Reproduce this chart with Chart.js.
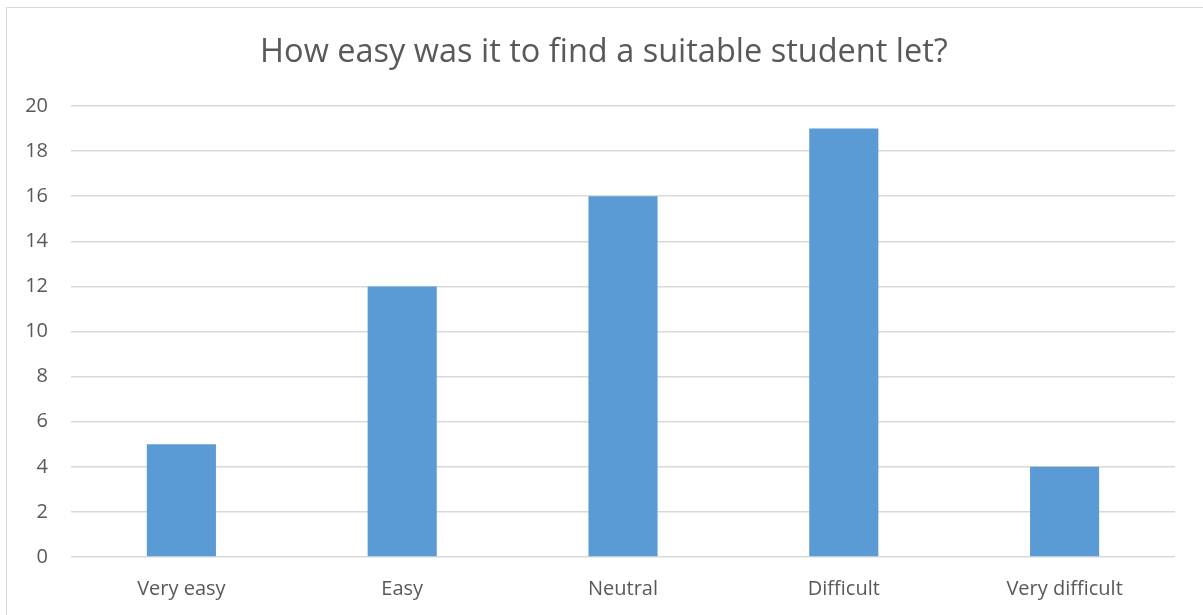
<!DOCTYPE html>
<html>
<head>
<meta charset="utf-8">
<script src="https://cdn.jsdelivr.net/npm/chart.js@4/dist/chart.umd.min.js"></script>
<style>
  html, body { margin: 0; padding: 0; background: #fff; }
  #wrap { position: relative; width: 1203px; height: 615px; overflow: hidden; }
  #frame {
    position: absolute; left: 6px; top: 7px; width: 1300px; height: 700px;
    border-left: 1px solid #d9d9d9; border-top: 1px solid #d9d9d9;
    pointer-events: none;
  }
</style>
</head>
<body>
<div id="wrap">
  <canvas id="letChart" width="1203" height="615"></canvas>
  <div id="frame"></div>
</div>
<script>
const chartTitle = 'How easy was it to find a suitable student let?';
const categories = ['Very easy', 'Easy', 'Neutral', 'Difficult', 'Very difficult'];
const responses = [5, 12, 16, 19, 4];
const yMax = 20;
const yStep = 2;

const fontFamily = "'Open Sans', 'Liberation Sans', sans-serif";
const textColor = '#595959';

const ctx = document.getElementById('letChart').getContext('2d');

new Chart(ctx, {
    type: 'bar',
    data: {
        labels: categories,
        datasets: [{
            label: 'Responses',
            data: responses,
            backgroundColor: '#5b9bd5',
            borderWidth: 0,
            categoryPercentage: 1,
            barPercentage: 0.313
        }]
    },
    options: {
        responsive: false,
        animation: false,
        layout: {
            padding: { top: 33, left: 5, right: 0, bottom: 0 }
        },
        plugins: {
            legend: { display: false },
            tooltip: { enabled: false },
            title: {
                display: true,
                text: chartTitle,
                color: textColor,
                font: { family: fontFamily, size: 32.5, weight: 'normal' },
                padding: { top: 0, bottom: 34 }
            }
        },
        scales: {
            x: {
                grid: { display: false, drawTicks: false },
                border: { display: false },
                ticks: {
                    color: textColor,
                    padding: 20,
                    font: { family: fontFamily, size: 20 }
                },
                // keep the label strip tight to the bottom edge
                afterFit: function (scale) {
                    scale.height = 58;
                }
            },
            y: {
                min: 0,
                max: yMax,
                ticks: {
                    stepSize: yStep,
                    color: textColor,
                    padding: 23,
                    font: { family: fontFamily, size: 20 }
                },
                grid: { color: '#d9d9d9', lineWidth: 1.5, drawTicks: false },
                border: { display: false },
                afterFit: function (scale) {
                    scale.width = 66;
                }
            },
            // empty strip on the right so the title stays centred on the page
            spacer: {
                type: 'linear',
                position: 'right',
                min: 0,
                max: yMax,
                grid: { display: false, drawTicks: false },
                border: { display: false },
                ticks: { display: false },
                afterFit: function (scale) {
                    scale.width = 28;
                }
            }
        }
    }
});
</script>
</body>
</html>
